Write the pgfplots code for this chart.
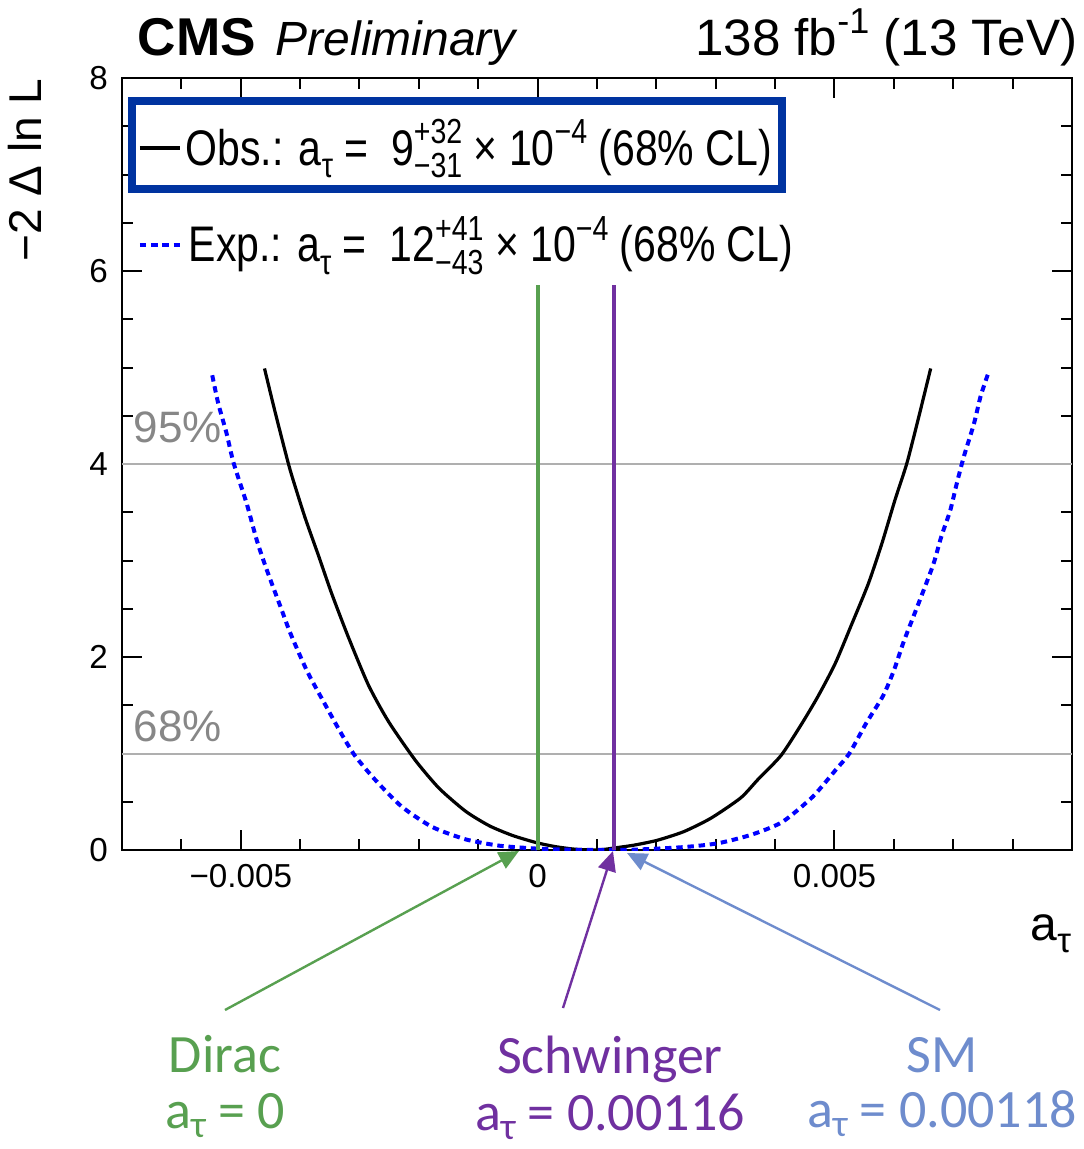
\documentclass[border=0pt]{standalone}
\usepackage{fontspec}
\setmainfont{Liberation Sans}
\newfontfamily\narrow{Liberation Sans}[FakeStretch=0.82]
\newfontfamily\calibri{Carlito}
\usepackage{pgfplots}
\pgfplotsset{compat=1.18}
\usetikzlibrary{arrows.meta}

\definecolor{legblue}{RGB}{0,51,160}
\definecolor{dirac}{RGB}{88,160,80}
\definecolor{schw}{RGB}{112,48,160}
\definecolor{smblue}{RGB}{110,140,205}
\definecolor{clgray}{RGB}{175,175,175}
\definecolor{cltext}{RGB}{135,135,135}

\newcommand{\fs}[1]{\fontsize{#1}{#1}\selectfont}
\newcommand{\sups}[1]{\raisebox{5.3pt}{\fs{8.7}#1}}
\newcommand{\subs}[1]{\raisebox{-3.2pt}{\fs{8.7}#1}}
\newcommand{\supsub}[2]{\makebox[0pt][l]{\sups{#1}}\subs{#2}}
\newcommand{\atau}[1]{a\raisebox{-0.17em}{\fs{#1}τ}}

% observed scan (black)
\pgfplotstableread{
x y
-0.00460 4.99
-0.00443 4.56
-0.00426 4.15
-0.00415 3.90
-0.00392 3.45
-0.00369 3.05
-0.00347 2.66
-0.00319 2.21
-0.00285 1.71
-0.00251 1.33
-0.00206 0.93
-0.00166 0.64
-0.00121 0.40
-0.00081 0.25
-0.00042 0.15
-0.00002 0.076
0.00030 0.035
0.00060 0.010
0.00090 0.000
0.00110 0.005
0.00128 0.020
0.00162 0.050
0.00201 0.100
0.00246 0.190
0.00292 0.330
0.00342 0.540
0.00371 0.730
0.00410 0.980
0.00444 1.300
0.00472 1.590
0.00501 1.930
0.00529 2.340
0.00557 2.760
0.00580 3.180
0.00602 3.630
0.00622 4.010
0.00642 4.490
0.00662 4.990
}\obsdata

% expected scan (blue dotted)
\pgfplotstableread{
x y
-0.00548 4.92
-0.00538 4.63
-0.00524 4.32
-0.00512 4.01
-0.00490 3.59
-0.00473 3.21
-0.00456 2.90
-0.00433 2.52
-0.00416 2.24
-0.00388 1.85
-0.00359 1.52
-0.00331 1.21
-0.00308 0.98
-0.00274 0.73
-0.00229 0.45
-0.00178 0.24
-0.00121 0.11
-0.00065 0.045
-0.00008 0.017
0.00040 0.005
0.00090 0.001
0.00120 0.000
0.00162 0.003
0.00246 0.030
0.00304 0.070
0.00361 0.160
0.00412 0.290
0.00463 0.550
0.00502 0.830
0.00525 1.000
0.00553 1.310
0.00582 1.600
0.00600 1.860
0.00616 2.150
0.00633 2.420
0.00650 2.690
0.00667 2.970
0.00680 3.250
0.00695 3.520
0.00706 3.800
0.00718 4.080
0.00735 4.420
0.00746 4.700
0.00760 4.960
}\expdata

\begin{document}
\begin{tikzpicture}
\begin{axis}[
    name=ax, at={(0,0)}, anchor=south west,
    scale only axis, width=237.5pt, height=193pt,
    xmin=-0.007, xmax=0.009, ymin=0, ymax=8,
    scaled x ticks=false,
    xtick={-0.005,0,0.005}, xticklabels={−0.005,0,0.005},
    minor xtick={-0.006,-0.004,-0.003,-0.002,-0.001,0.001,0.002,0.003,0.004,0.006,0.007,0.008},
    ytick={0,2,4,6,8}, yticklabels={0,2,4,6,8},
    minor y tick num=3,
    tick align=inside, major tick length=5pt, minor tick length=2.8pt,
    tick style={black, line width=0.5pt},
    axis line style={line width=0.6pt},
    tick label style={font=\fs{8.3}},
  ]
  \addplot[clgray, line width=0.5pt] coordinates {(-0.007,1) (0.009,1)};
  \addplot[clgray, line width=0.5pt] coordinates {(-0.007,4) (0.009,4)};
  \addplot[black, line width=0.8pt, smooth, tension=0.4] table[x=x, y=y] {\obsdata};
  \addplot[blue, line width=1pt, smooth, tension=0.4, dash pattern=on 1.6pt off 1.2pt] table[x=x, y=y] {\expdata};
  \addplot[dirac, line width=1pt] coordinates {(0,0) (0,5.85)};
  \addplot[schw, line width=1pt] coordinates {(0.00128,0) (0.00128,5.85)};
\end{axis}

% pixel frame of the reference image
\begin{scope}[shift={(ax.south west)}, x=0.25pt, y=-0.25pt, shift={(-122,-850)}]
  \path (0,0) rectangle (1084,1149);

  % header
  \node[anchor=base west, inner sep=0] at (137,55) {\fs{13.3}\bfseries CMS};
  \node[anchor=base west, inner sep=0] at (275,55) {\fs{12}\itshape Preliminary};
  \node[anchor=base east, inner sep=0] at (1078,55) {\fs{12.8}138 fb\raisebox{5.5pt}{\fs{9}-1} (13 TeV)};

  % axis titles
  \node[anchor=base, rotate=90, inner sep=0] at (42,170) {\fs{11.5}−2 Δ ln L};
  \node[anchor=base east, inner sep=0] at (1072,940) {\fs{12}a\subs{τ}};

  % CL labels
  \node[anchor=base west, inner sep=0, text=cltext] at (133,442) {\fs{11}95\%};
  \node[anchor=base west, inner sep=0, text=cltext] at (133,741) {\fs{11}68\%};

  % legend
  \draw[legblue, line width=2pt] (132,101) rectangle (782,189);
  \draw[black, line width=0.8pt] (140,148) -- (180,148);
  \draw[blue, line width=1pt, dash pattern=on 1.6pt off 1.2pt] (140,245) -- (182,245);
  \node[anchor=base west, inner sep=0] at (185,165)
    {\narrow\fs{12.5}Obs.: a\subs{τ} =\ \ 9\supsub{+32}{−31} × 10\sups{−4} (68\% CL)};
  \node[anchor=base west, inner sep=0] at (188,262)
    {\narrow\fs{12.5}Exp.: a\subs{τ} =\ \ 12\supsub{+41}{−43} × 10\sups{−4} (68\% CL)};

  % annotations
  \draw[dirac, line width=0.6pt, -{Triangle[length=5pt,width=4.5pt]}] (225,1010) -- (519,851);
  \draw[schw, line width=0.6pt, -{Triangle[length=5pt,width=4.5pt]}] (563,1008) -- (613,851);
  \draw[smblue, line width=0.6pt, -{Triangle[length=5pt,width=4.5pt]}] (940,1010) -- (627,853);

  \node[anchor=base, inner sep=0, text=dirac] at (225,1072) {\calibri\fs{13.5}Dirac};
  \node[anchor=base, inner sep=0, text=dirac] at (225,1128) {\calibri\fs{13.5}\atau{9.5} = 0};
  \node[anchor=base, inner sep=0, text=schw] at (610,1073) {\calibri\fs{13.5}Schwinger};
  \node[anchor=base, inner sep=0, text=schw] at (610,1130) {\calibri\fs{13.5}\atau{9.5} = 0.00116};
  \node[anchor=base, inner sep=0, text=smblue] at (942,1072) {\calibri\fs{13.5}SM};
  \node[anchor=base, inner sep=0, text=smblue] at (942,1127) {\calibri\fs{13.5}\atau{9.5} = 0.00118};
\end{scope}
\end{tikzpicture}
\end{document}
